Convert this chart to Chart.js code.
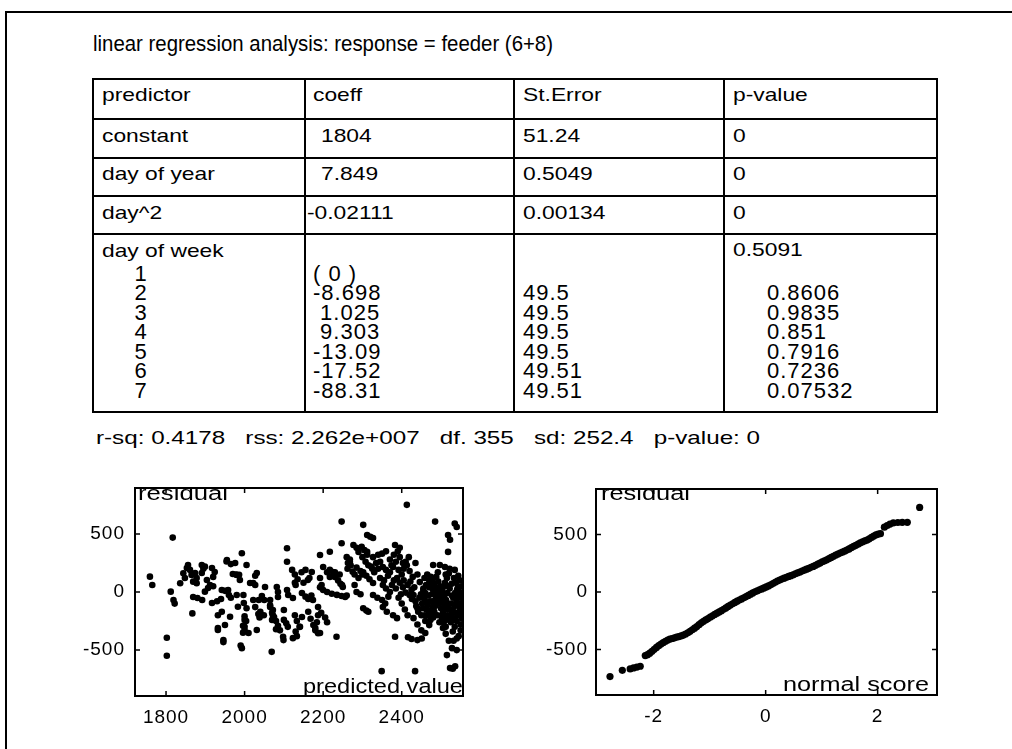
<!DOCTYPE html>
<html>
<head>
<meta charset="utf-8">
<script src="https://cdn.jsdelivr.net/npm/chart.js@4.4.1/dist/chart.umd.min.js"></script>
<style>
  body { margin: 0; background: #fff; width: 1012px; height: 749px; overflow: hidden; position: relative;
         font-family: Arial, "Liberation Sans", sans-serif; color: #000; }
  .t { position: absolute; white-space: pre; transform-origin: 0 0; }
  .hl { position: absolute; height: 2px; background: #000; }
  .vl { position: absolute; width: 2px; background: #000; }
  .box { position: absolute; overflow: hidden; }
  canvas { position: absolute; }
</style>
</head>
<body>
<div class="hl" style="left:5px; top:11px; width:1007px;"></div>
<div class="vl" style="left:5px; top:11px; height:738px;"></div>
<div id="table"></div>
<canvas id="fitted" width="400" height="262" style="left:75px; top:478px;"></canvas>
<canvas id="normal" width="414" height="260" style="left:536px; top:479px;"></canvas>
<div class="box" id="fittedBox" style="left:135px; top:487px; width:328px; height:210px;"></div>
<div class="box" id="normalBox" style="left:596px; top:488px; width:341px; height:208px;"></div>
<script>
const title = "linear regression analysis: response = feeder (6+8)";
const headers = ["predictor", "coeff", "St.Error", "p-value"];
const predictors = ["constant", "day of year", "day^2"];
const coeffs = ["1804", "7.849", "-0.02111"];
const stErrors = ["51.24", "0.5049", "0.00134"];
const pValues = ["0", "0", "0"];
const weekLabel = "day of week";
const weekPValue = "0.5091";
const weekDays = ["1", "2", "3", "4", "5", "6", "7"];
const weekCoeffs = ["( 0 )", "-8.698", " 1.025", " 9.303", "-13.09", "-17.52", "-88.31"];
const weekStErrors = ["", "49.5", "49.5", "49.5", "49.5", "49.51", "49.51"];
const weekPValues = ["", "0.8606", "0.9835", "0.851", "0.7916", "0.7236", "0.07532"];
const fitStats = "r-sq: 0.4178   rss: 2.262e+007   df. 355   sd: 252.4   p-value: 0";

const fittedTicks = [1800, 2000, 2200, 2400];
const scoreTicks = [-2, 0, 2];
const residualTicks = [-500, 0, 500];

// residual vs predicted value
const residualVsFitted = [
  [1759,132],[1765,60],[1817,468],[1812,3],[1819,-69],[1822,-100],[1802,-394],[1802,-549],
  [1836,75],[1844,161],[1848,120],[1853,207],[1856,233],[1861,190],[1865,147],[1869,89],[1874,164],
  [1878,120],[1878,75],[1891,233],[1895,200],[1899,218],[1891,164],[1904,103],[1912,60],[1907,34],
  [1899,3],[1869,-43],[1880,-52],[1892,-69],[1867,-184],
  [1924,172],[1920,130],[1917,207],[1920,50],[1917,-95],[1930,-80],[1940,-60],[1942,17],[1950,10],
  [1954,262],[1970,155],[1978,150],[1986,148],[1976,250],[1993,333],[1960,-26],[1965,-50],[1942,-170],
  [1932,-200],[1963,-213],[1950,-284],[1932,-310],[1946,-414],[1983,-127],[1990,-460],[1993,-483],
  [1996,-290],[1996,-350],[1955,276],[1965,240],[1980,147],[1958,17],[1980,-26],[1988,103],[1932,-327],
  [1946,-431],
  [2005,233],[2031,164],[2014,78],[2022,78],[1997,-26],[2052,43],[2082,43],[2085,0],[2022,-69],
  [2036,-69],[2050,-69],[2065,-69],[1998,-95],[2005,-140],[2000,-210],[2000,-240],[2000,-300],
  [2000,-330],[2040,-170],[2042,-200],[2038,-220],[2031,-327],[2072,-155],[2072,-200],[2070,-240],
  [2080,-250],[2085,-290],[2090,-330],[2080,-320],[2099,-414],[2069,-515],[2027,60],[2027,140],
  [2027,-130],[2035,-190],[2044,-35],[2065,-115],[2065,-130],[2049,-200],[2085,-43],[2070,-180],
  [2075,-215],[2108,17],[2100,-155],[2100,-240],[2106,-270],[2110,-300],[2098,-385],[2108,377],
  [2108,260],[2004,-250],[2010,-353],
  [2111,-26],[2123,-52],[2128,-200],[2133,-250],[2141,-300],[2130,-340],[2133,-380],[2121,190],
  [2128,150],[2135,110],[2145,170],[2155,190],[2161,103],[2150,80],[2130,60],[2128,80],[2146,-9],
  [2155,-40],[2162,-60],[2170,-30],[2174,-69],[2162,-170],[2168,-230],[2175,-285],[2184,-260],
  [2187,-200],[2187,-355],[2192,120],[2196,60],[2200,17],[2192,40],[2200,215],[2210,170],[2217,130],
  [2192,319],[2217,347],[2146,-215],[2123,-397],[2140,-300],[2180,-310],[2180,-330],[2192,-353],
  [2187,-130],[2195,-180],[2205,-220],[2210,-260],[2171,172],[2165,120],
  [2210,0],[2222,-15],[2235,-25],[2247,-35],[2256,-43],[2260,-30],[2230,130],[2238,100],[2244,70],
  [2250,43],[2225,172],[2247,606],[2247,420],[2263,250],[2268,280],[2260,300],[2234,-385],[2217,190],
  [2230,170],[2242,150],[2248,60],[2262,200],[2270,230],[2275,175],[2280,150],[2268,260],[2277,405],
  [2285,380],[2290,345],[2298,390],[2305,360],[2290,120],[2295,180],[2285,210],[2300,150],[2312,345],
  [2302,578],[2280,60],[2285,0],[2295,-20],[2300,300],[2308,260],[2315,230],
  [2312,490],[2320,475],[2327,465],[2312,320],[2327,300],[2340,320],[2345,260],[2302,170],[2310,140],
  [2318,110],[2327,78],[2352,215],[2360,190],[2370,170],[2378,215],[2352,60],[2360,30],[2370,0],
  [2327,-26],[2338,-50],[2350,-69],[2302,-140],[2310,-160],[2315,-170],[2352,-130],[2362,-170],
  [2378,-200],[2388,-225],[2349,-681],[2383,405],[2390,350],[2395,300],[2385,260],[2403,250],
  [2388,120],[2395,80],[2403,40],[2410,-5],[2420,-26],[2383,-385],[2400,150],[2405,200],[2395,380],
  [2340,200],[2330,170],[2322,220],[2335,250],[2325,200],[2345,120],[2355,100],[2365,140],[2375,60],
  [2385,30],[2392,-50],[2400,-100],[2408,-150],[2415,-200],[2370,280],[2380,320],[2360,350],[2350,330],
  [2405,100],[2410,260],[2418,300],[2422,90],[2426,-60],[2432,40],[2437,-120],[2442,-170],[2398,-20],
  [2392,190],[2380,100],[2374,230],[2366,-40],[2358,-100],
  [2413,750],[2413,230],[2420,180],[2428,130],[2435,250],[2446,85],[2440,150],[2430,-26],[2435,-80],
  [2440,-140],[2450,-200],[2460,-250],[2470,-285],[2480,-220],[2430,-225],[2440,-280],[2450,-330],
  [2460,-353],[2416,-390],[2425,-405],[2440,-414],[2451,-400],[2434,-681],[2485,606],[2535,590],
  [2540,560],[2518,490],[2523,450],[2518,345],[2480,233],[2497,233],[2510,215],[2522,200],[2535,190],
  [2505,-310],[2512,-360],[2520,-420],[2528,-483],[2515,-543],[2540,-500],[2523,-655],[2536,-640],
  [2530,-660],[2415,60],[2425,20],[2445,-50],[2455,30],[2460,-10],
  [2465,150],[2470,100],[2475,60],[2480,20],[2485,-20],[2490,-60],[2495,-100],[2500,-140],[2505,-180],
  [2510,-220],[2468,-30],[2472,-80],[2478,-130],[2483,-170],[2488,130],[2493,90],[2498,50],[2503,10],
  [2508,-30],[2513,-70],[2518,-110],[2523,-150],[2528,-190],[2533,120],[2538,80],[2543,40],[2548,0],
  [2545,-40],[2540,-80],[2535,-120],[2530,-160],[2525,-200],[2520,160],[2515,120],[2510,80],[2505,40],
  [2500,0],[2495,-40],[2490,-80],[2485,-120],[2480,-160],[2475,-200],[2470,40],[2466,-110],[2462,60],
  [2458,-60],[2455,10],[2452,-100],[2548,-150],[2545,-200],[2540,-250],[2535,-300],[2530,-340],
  [2525,-260],[2550,-280],[2550,-330],[2545,-380],[2540,-400],[2532,-420],[2548,100],[2552,50],
  [2550,-50],[2553,-100],[2544,140],[2528,-30],[2522,30],[2516,-10],[2512,150],[2492,170],[2478,100],
  [2458,120],[2463,-150],[2467,-200],[2473,-240],[2477,-20],[2482,70],[2487,-60],[2491,-200],[2496,-260],
  [2502,-220],[2507,-260],[2512,-300],[2517,-200],[2521,-240],[2526,-100],[2531,-50],[2536,-10],
  [2541,20],[2546,-120],[2551,-180],[2554,-230],[2549,-20],[2539,-180],[2533,-230],[2527,70],[2519,50],
  [2514,-150],[2509,-120],[2504,-80],[2499,-40],[2494,10],[2489,30],[2484,50],[2479,-80],[2474,130],
  [2469,-160],[2464,-90],[2459,-200],[2454,-140],[2449,-20]
];

// normal probability plot
const normalScores = [
  -2.78,-2.56,-2.42,-2.36,-2.30,-2.24,-2.15,-2.11,-2.07,-2.03,-1.99,-1.95,-1.91,-1.87,-1.83,-1.79,
  -1.75,-1.71,-1.67,-1.63,-1.59,-1.55,-1.51,-1.47,-1.43,-1.39,-1.35,-1.31,-1.27,-1.23,-1.19,-1.15,
  -1.11,-1.07,-1.03,-0.99,-0.95,-0.91,-0.87,-0.83,-0.79,-0.75,-0.71,-0.67,-0.63,-0.59,-0.55,-0.51,
  -0.47,-0.43,-0.39,-0.35,-0.31,-0.27,-0.23,-0.19,-0.15,-0.11,-0.07,-0.03,0.01,0.05,0.09,0.13,0.17,
  0.21,0.25,0.29,0.33,0.37,0.41,0.45,0.49,0.53,0.57,0.61,0.65,0.69,0.73,0.77,0.81,0.85,0.89,0.93,
  0.97,1.01,1.05,1.09,1.13,1.17,1.21,1.25,1.29,1.33,1.37,1.41,1.45,1.49,1.53,1.57,1.61,1.65,1.69,
  1.73,1.77,1.81,1.85,1.89,1.93,1.97,2.01,2.05,2.12,2.17,2.22,2.28,2.36,2.44,2.53,2.75
];
const sortedResiduals = [
  -735,-681,-668,-660,-652,-645,-552,-545,-532,-515,-498,-482,-466,-452,-440,-428,
  -418,-410,-404,-398,-392,-387,-382,-374,-365,-354,-342,-328,-314,-300,-284,-268,
  -255,-243,-231,-219,-207,-195,-184,-173,-162,-150,-138,-125,-114,-102,-91,-80,
  -70,-60,-50,-40,-30,-19,-8,2,11,19,27,35,44,53,62,73,84,
  95,104,112,120,128,135,142,150,158,166,174,182,190,198,206,214,222,232,242,
  252,262,271,280,290,300,310,320,330,338,346,355,364,374,385,396,406,416,427,
  436,444,452,462,474,486,496,503,507,563,578,590,600,604,605,605,735
];

// ---- text ----
const page = document.body;
function text(parent, str, x, baseline, size, width, lineHeight) {
  const el = document.createElement('div');
  el.className = 't';
  el.textContent = str;
  const lh = lineHeight || size * 1.2;
  el.style.fontSize = size + 'px';
  el.style.lineHeight = lh + 'px';
  el.style.left = x + 'px';
  // Arial: ascent .905, descent .212
  el.style.top = (baseline - ((lh - 1.117 * size) / 2 + 0.905 * size)) + 'px';
  parent.appendChild(el);
  const w = el.getBoundingClientRect().width;
  el.style.transform = 'scaleX(' + (width ? width / w : 1.2) + ')';
  return el;
}

text(page, title, 93, 52, 22, 460);

const tbl = document.getElementById('table');
const rowLines = [79, 119, 158, 196, 234, 412];
const colLines = [93, 305, 514, 724, 937];
rowLines.forEach(y => {
  const d = document.createElement('div');
  d.className = 'hl';
  d.style.cssText = `left:${colLines[0] - 1}px; top:${y - 1}px; width:${colLines[4] - colLines[0] + 2}px;`;
  tbl.appendChild(d);
});
colLines.forEach(x => {
  const d = document.createElement('div');
  d.className = 'vl';
  d.style.cssText = `left:${x - 1}px; top:${rowLines[0] - 1}px; height:${rowLines[5] - rowLines[0] + 2}px;`;
  tbl.appendChild(d);
});

const colText = [102, 313, 523, 733];
headers.forEach((h, i) => text(tbl, h, colText[i], 102, 19, null));
const rowBase = [142.5, 181, 219.5];
predictors.forEach((p, i) => {
  text(tbl, p, colText[0], rowBase[i], 19, null);
  text(tbl, coeffs[i], coeffs[i][0] === '-' ? 307 : 321, rowBase[i], 19, null);
  text(tbl, stErrors[i], colText[2], rowBase[i], 19, null);
  text(tbl, pValues[i], colText[3], rowBase[i], 19, null);
});
text(tbl, weekLabel, colText[0], 258, 19, null);
text(tbl, weekPValue, colText[3], 257, 19, null);

function block(lines, x, align) {
  const el = document.createElement('div');
  el.className = 't';
  el.style.cssText = `left:${x}px; top:264px; font-size:22px; line-height:19.45px; letter-spacing:1px; text-align:${align}; width:${align === 'center' ? 26 : 120}px;`;
  el.textContent = lines.join('\n');
  tbl.appendChild(el);
}
block(weekDays, 128, 'center');
block(weekCoeffs, 313, 'left');
block(weekStErrors, 523, 'left');
block(weekPValues, 767, 'left');

text(page, fitStats, 96, 445, 19, 664);

// in-plot axis names
const fBox = document.getElementById('fittedBox');
const nBox = document.getElementById('normalBox');
text(fBox, 'residual', 3, 13, 20, 90);
text(fBox, 'predicted value', 168, 206, 20, 160);
text(nBox, 'residual', 5, 12, 20, 89);
text(nBox, 'normal score', 187, 203, 20, 146);

// ---- charts ----
const frameTicks = {
  id: 'frameTicks',
  beforeDraw(chart) { chart.ctx.letterSpacing = '1px'; },
  afterDatasetsDraw(chart) {
    const { ctx, chartArea: a, scales: { x, y } } = chart;
    ctx.save();
    ctx.strokeStyle = '#000';
    ctx.lineWidth = 2;
    ctx.strokeRect(a.left, a.top, a.right - a.left, a.bottom - a.top);
    ctx.lineWidth = 1.5;
    ctx.beginPath();
    x.ticks.forEach(t => {
      const px = x.getPixelForValue(t.value);
      ctx.moveTo(px, a.bottom); ctx.lineTo(px, a.bottom - 5);
      ctx.moveTo(px, a.top); ctx.lineTo(px, a.top + 5);
    });
    y.ticks.forEach(t => {
      const py = y.getPixelForValue(t.value);
      ctx.moveTo(a.left, py); ctx.lineTo(a.left + 5, py);
      ctx.moveTo(a.right, py); ctx.lineTo(a.right - 5, py);
    });
    ctx.stroke();
    ctx.restore();
  }
};

const tickFont = { family: 'Arial, "Liberation Sans", sans-serif', size: 19 };

function plotOptions(xMin, xMax, xTicks, padRight, yPad) {
  return {
    responsive: false,
    animation: false,
    events: [],
    layout: { padding: { top: 10, right: padRight, left: 0, bottom: 0 } },
    plugins: { legend: { display: false }, tooltip: { enabled: false } },
    scales: {
      x: {
        type: 'linear', min: xMin, max: xMax,
        grid: { display: false, drawTicks: false }, border: { display: false },
        ticks: { autoSkip: false, maxRotation: 0, color: '#000', font: tickFont, padding: 10,
                 callback: v => String(v) },
        afterBuildTicks(s) { s.ticks = xTicks.map(v => ({ value: v })); },
        afterFit(s) { s.height = 44; s.paddingLeft = 0; s.paddingRight = 0; }
      },
      y: {
        type: 'linear', min: -895, max: 895,
        grid: { display: false, drawTicks: false }, border: { display: false },
        ticks: { color: '#000', font: tickFont, padding: yPad, callback: v => String(v) },
        afterBuildTicks(s) { s.ticks = residualTicks.map(v => ({ value: v })); },
        afterFit(s) { s.width = 60; s.paddingTop = 0; s.paddingBottom = 0; }
      }
    }
  };
}

function dots(points, r) {
  return {
    data: points,
    showLine: false,
    pointRadius: r,
    pointBorderWidth: 0,
    pointBackgroundColor: '#000',
    clip: 0
  };
}

new Chart(document.getElementById('fitted'), {
  type: 'scatter',
  data: { datasets: [dots(residualVsFitted.map(([x, y]) => ({ x, y })), 3.3)] },
  options: plotOptions(1721, 2556, fittedTicks, 12, 10),
  plugins: [frameTicks]
});

new Chart(document.getElementById('normal'), {
  type: 'scatter',
  data: { datasets: [dots(normalScores.map((s, i) => ({ x: s, y: sortedResiduals[i] })), 3.6)] },
  options: plotOptions(-3.03, 3.06, scoreTicks, 13, 8),
  plugins: [frameTicks]
});
</script>
</body>
</html>
